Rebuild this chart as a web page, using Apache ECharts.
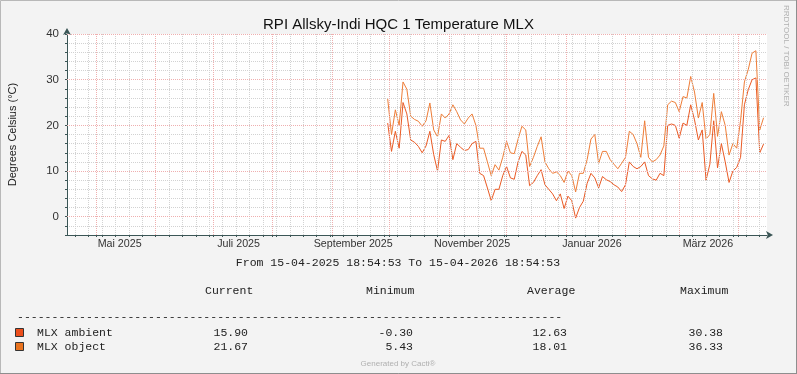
<!DOCTYPE html>
<html>
<head>
<meta charset="utf-8">
<script src="https://cdn.jsdelivr.net/npm/echarts@6/dist/echarts.min.js"></script>
<style>
html,body{margin:0;padding:0;background:#F3F3F3;}
#chart{width:797px;height:374px;}
</style>
</head>
<body>
<div id="chart"></div>
<script>
// ---- data ----
const rangeStart = '2025-04-15T18:54:53Z';
const rangeEnd = '2026-04-15T18:54:53Z';
const sampleStart = '2025-09-30T00:00:00Z';
const sampleStepDays = 2;
const ambient = [20.5,14.3,18.7,15,25,22.5,16.8,16.3,15.4,14,15.5,18.7,13.6,10,16.8,16.5,17.8,12.5,16,15.2,
  14.5,14.7,16,16.5,9.5,9,6.3,3.5,6,6,9,11,8.5,8.2,12,14.3,13.5,6.8,7.5,9,
  10.3,7,6,5,3.5,5,1.8,4.5,3.5,-0.3,2,3.4,7.3,9.5,8.5,6.3,8.8,8.1,7.7,7,
  6.5,5.5,7,12,11,10.5,11,12,9,8.3,8,9.5,9,20,20.3,20,17.2,20.5,20,24.5,
  21.2,16.8,19,8,11.5,21,10.7,16,12,7.5,10,10.8,13,24.5,27.8,30,30.38,14,15.9];
const object = [25.8,18,23.4,20,29.5,27.9,22,21.3,20.9,19.8,21,24.9,19,17.5,22.5,21.6,22.5,24.5,23,21.2,
  20.3,21.6,22.5,20,15,15,12,9,11.4,10.2,13,16.5,14,13.8,17,19.8,19,11,13,15.4,
  17.5,12,10.5,9.5,9.8,9,7.5,10,9,5.43,9.5,9.5,12.5,17,18,11.7,14.3,14.3,12.5,11.5,
  10.5,11.7,13,18.7,18,16,13,21,13,12,12.5,13.5,15.5,24.5,25.3,25,23,26.3,26,30.7,
  27.3,21.6,25,17,18,27,17.6,23,20,13.5,16,15,21,29.5,32.2,35.8,36.33,19,21.67];
const monthLabels = ['Mai 2025','Juli 2025','September 2025','November 2025','Januar 2026','März 2026'];
const monthLabelDates = ['2025-05-13T06:00:00Z','2025-07-14T06:00:00Z','2025-09-12T00:00:00Z','2025-11-13T00:00:00Z','2026-01-14T12:00:00Z','2026-03-16T00:00:00Z'];
const yTickLabels = [0,10,20,30,40];
const legendNames = ['MLX ambient','MLX object'];
const legendColors = ['#EC4E1C','#E9731F'];
const statHeaders = ['Current','Minimum','Average','Maximum'];
const statAmbient = ['15.90','-0.30','12.63','30.38'];
const statObject = ['21.67','5.43','18.01','36.33'];

// ---- build ----
const DAY = 86400000;
const t0 = Date.parse(sampleStart);
const ambData = ambient.map((v,i)=>[t0 + i*sampleStepDays*DAY, v]);
const objData = object.map((v,i)=>[t0 + i*sampleStepDays*DAY, v]);
const xMin = Date.parse(rangeStart), xMax = Date.parse(rangeEnd);
const labelTimes = monthLabelDates.map(d=>Date.parse(d));

const minorStyle = {color:'#D2D2D2', type:[1,1], width:1};
const majorStyle = {color:'#EFAFAF', type:[1,1], width:1};
const gridLines = [];
const tickTimes = [];
for (let t = Date.UTC(2025,3,20); t < xMax; t += 7*DAY) { gridLines.push({xAxis:t, lineStyle:minorStyle}); tickTimes.push(t); }
for (let m = 4; m <= 15; m++) { const t = Date.UTC(2025, m, 1); gridLines.push({xAxis:t, lineStyle:majorStyle}); tickTimes.push(t); }
yTickLabels.forEach(v=>gridLines.push({yAxis:v, lineStyle:majorStyle}));

const chart = echarts.init(document.getElementById('chart'), null, {renderer:'canvas'});
const txt = (x,y,s,align)=>({type:'text', x:x, y:y, silent:true,
  style:{text:s, font:'11.5px "Liberation Mono"', fill:'#222', align:align||'left', verticalAlign:'middle'}});
const cols = [248,413,567,723];
const hdrX = [205,366,527,680];
const graphic = [
  {type:'rect', shape:{x:0.5,y:0.5,width:796,height:373}, style:{fill:'none', stroke:'#B8B8B8', lineWidth:1}, silent:true, z:-1},
  {type:'line', shape:{x1:796.5,y1:0,x2:796.5,y2:374}, style:{stroke:'#8E8E8E'}, silent:true},
  {type:'line', shape:{x1:0,y1:373.5,x2:797,y2:373.5}, style:{stroke:'#8E8E8E'}, silent:true},
  {type:'text', x:398, y:263, silent:true, style:{text:'From 15-04-2025 18:54:53 To 15-04-2026 18:54:53', font:'11.5px "Liberation Mono"', fill:'#222', align:'center', verticalAlign:'middle'}},
  txt(17,317,'-'.repeat(79)),
  {type:'text', x:398, y:364, silent:true, style:{text:'Generated by Cacti®', font:'8px "Liberation Sans"', fill:'#B0B0B0', align:'center', verticalAlign:'middle'}},
  {type:'text', x:786, y:5, rotation:-Math.PI/2, silent:true, style:{text:'RRDTOOL / TOBI OETIKER', font:'8px "Liberation Sans"', fill:'#B0B0B0', align:'left', verticalAlign:'middle'}}
];
statHeaders.forEach((h,i)=>graphic.push(txt(hdrX[i],291,h)));
[statAmbient, statObject].forEach((row,r)=>{
  const y = 333 + r*14;
  graphic.push({type:'rect', shape:{x:15.5,y:y-4.5,width:8,height:8}, style:{fill:legendColors[r], stroke:'#333', lineWidth:1}, silent:true});
  graphic.push(txt(37,y,legendNames[r]));
  row.forEach((v,i)=>graphic.push(txt(cols[i],y,v,'right')));
});

chart.setOption({
  animation:false,
  backgroundColor:'#F3F3F3',
  title:{text:'RPI Allsky-Indi HQC 1 Temperature MLX', left:'center', top:12,
    textStyle:{fontFamily:'Liberation Sans', fontSize:15, fontWeight:'normal', color:'#111'}},
  grid:{left:67, top:34, width:700, height:201, show:true, backgroundColor:'#FFFFFF', borderWidth:0,
    containLabel:false, outerBoundsMode:'none'},
  xAxis:{type:'value', min:xMin, max:xMax, scale:true,
    axisLine:{show:true, onZero:false, lineStyle:{color:'#3B5656', width:1}, symbol:['none','arrow'], symbolSize:[6,7], symbolOffset:[0,6]},
    axisTick:{show:true, customValues:tickTimes, length:2, lineStyle:{color:'#3B5656'}},
    splitLine:{show:false},
    axisLabel:{customValues:labelTimes, color:'#333', fontFamily:'Liberation Sans', fontSize:10.7, margin:4,
      formatter:(v)=>{let k=0,b=Infinity;labelTimes.forEach((t,i)=>{const d=Math.abs(t-v);if(d<b){b=d;k=i;}});return monthLabels[k];}}
  },
  yAxis:{type:'value', min:-4, max:40, interval:2,
    name:'Degrees Celsius (°C)', nameLocation:'middle', nameGap:49,
    nameTextStyle:{fontFamily:'Liberation Sans', fontSize:11, color:'#222'},
    axisLine:{show:true, onZero:false, lineStyle:{color:'#3B5656', width:1}, symbol:['none','arrow'], symbolSize:[6,7], symbolOffset:[0,6]},
    axisTick:{show:true, length:2, lineStyle:{color:'#3B5656'}},
    splitLine:{show:true, lineStyle:minorStyle},
    axisLabel:{interval:0, color:'#333', fontFamily:'Liberation Sans', fontSize:11.5, margin:8,
      formatter:(v)=> (yTickLabels.indexOf(v)>=0 ? String(v) : '')}
  },
  series:[
    {type:'line', name:'grid', data:[], silent:true, z:1,
      markLine:{silent:true, symbol:['none','none'], label:{show:false}, animation:false, data:gridLines}},
    {type:'line', name:legendNames[0], data:ambData, showSymbol:false, z:3,
      lineStyle:{color:'#EA5A24', width:1}},
    {type:'line', name:legendNames[1], data:objData, showSymbol:false, z:4,
      lineStyle:{color:'#EE7D37', width:1}}
  ],
  graphic:graphic
});
</script>
</body>
</html>
